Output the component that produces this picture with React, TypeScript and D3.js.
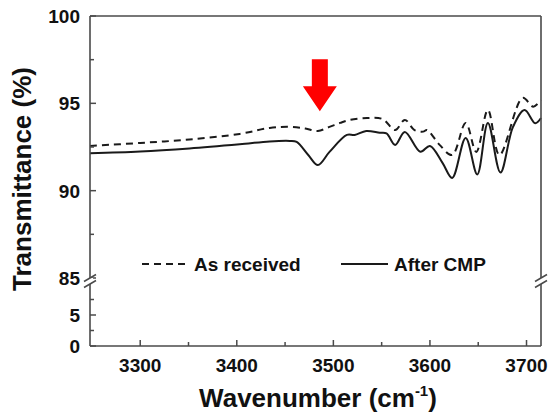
import React from 'react';
import * as d3 from 'd3';

// After CMP (solid)
const afterWave = [3248, 3300, 3351, 3403, 3434, 3455, 3462, 3474, 3484, 3496, 3514, 3522, 3534, 3548, 3555, 3564, 3574, 3590, 3600, 3613, 3623, 3637, 3649, 3660, 3673, 3686, 3698, 3709, 3715];
const afterT = [92.14, 92.24, 92.42, 92.66, 92.82, 92.85, 92.79, 92.04, 91.47, 92.22, 93.19, 93.19, 93.42, 93.32, 93.28, 92.62, 93.36, 92.23, 92.56, 91.59, 90.73, 93.02, 90.93, 93.88, 91.04, 93.65, 94.62, 93.86, 94.16];

// As received (dashed)
const asRecWave = [3248, 3300, 3351, 3403, 3434, 3455, 3471, 3484, 3496, 3507, 3517, 3535, 3551, 3564, 3574, 3584, 3593, 3597, 3610, 3623, 3637, 3648, 3660, 3672, 3696, 3707, 3715];
const asRecT = [92.56, 92.73, 92.93, 93.25, 93.59, 93.66, 93.56, 93.42, 93.65, 93.88, 94.05, 94.16, 94.1, 93.47, 94.05, 93.47, 93.38, 93.47, 92.62, 92.04, 93.88, 92.22, 94.62, 92.04, 95.31, 94.81, 95.19];

const xMajor = [3300, 3400, 3500, 3600, 3700];
const xMinor = [3350, 3450, 3550, 3650];
const yTopMajor = [85, 90, 95, 100];
const yTopMinor = [87.5, 92.5, 97.5];
const yBotMajor = [0, 5];
const yBotMinor = [2.5, 7.5];

const W = 549;
const H = 416;
const L = 90;
const R = 541;
const T = 16;
const B = 346;

const x = d3.scaleLinear().domain([3248, 3715]).range([L, R]);
const yTop = d3.scaleLinear().domain([85, 100]).range([278, T]);
const yBot = d3.scaleLinear().domain([0, 10]).range([B, 284]);

const font = 'Arial, "Liberation Sans", sans-serif';
const axisColor = '#4a4a4a';

export default function App() {
  const line = d3.line<[number, number]>()
    .x(d => x(d[0]))
    .y(d => yTop(d[1]))
    .curve(d3.curveCatmullRom.alpha(0.5));

  const afterPath = line(afterWave.map((w, i) => [w, afterT[i]]) as [number, number][]) || '';
  const asRecPath = line(asRecWave.map((w, i) => [w, asRecT[i]]) as [number, number][]) || '';

  const arrowX = x(3486);
  const tipY = yTop(94.55);
  const arrow = [
    [arrowX - 8, tipY - 52],
    [arrowX + 8, tipY - 52],
    [arrowX + 8, tipY - 25],
    [arrowX + 17, tipY - 25],
    [arrowX, tipY],
    [arrowX - 17, tipY - 25],
    [arrowX - 8, tipY - 25],
  ].map(p => p.join(',')).join(' ');

  const breakY = (yTop(85) + yBot(10)) / 2;

  const breakMark = (bx: number) => (
    <g key={'b' + bx}>
      <rect x={bx - 3} y={breakY - 3} width={6} height={6} fill="#fff" />
      <line x1={bx - 6} y1={breakY - 3 + 3.5} x2={bx + 6} y2={breakY - 3 - 3.5} stroke={axisColor} strokeWidth={1.5} />
      <line x1={bx - 6} y1={breakY + 3 + 3.5} x2={bx + 6} y2={breakY + 3 - 3.5} stroke={axisColor} strokeWidth={1.5} />
    </g>
  );

  return (
    <svg width={W} height={H} style={{ position: 'absolute', left: 0, top: 0, background: '#fff' }} fontFamily={font}>
      <rect x={0} y={0} width={W} height={H} fill="#fff" />

      {/* curves */}
      <path d={asRecPath} fill="none" stroke="#1a1a1a" strokeWidth={2} strokeDasharray="7,5" />
      <path d={afterPath} fill="none" stroke="#1a1a1a" strokeWidth={2} />

      {/* red arrow */}
      <polygon points={arrow} fill="#ff0000" />

      {/* frame */}
      <g stroke={axisColor} strokeWidth={1.6} fill="none">
        <line x1={L} y1={T} x2={R} y2={T} />
        <line x1={L} y1={B} x2={R} y2={B} />
        <line x1={L} y1={T} x2={L} y2={B} />
        <line x1={R} y1={T} x2={R} y2={B} />
      </g>

      {/* x ticks */}
      <g stroke={axisColor} strokeWidth={1.5}>
        {xMajor.map(v => <line key={'xM' + v} x1={x(v)} x2={x(v)} y1={B} y2={B - 6} />)}
        {xMinor.map(v => <line key={'xm' + v} x1={x(v)} x2={x(v)} y1={B} y2={B - 4} />)}
        {yTopMajor.map(v => <line key={'yM' + v} x1={L} x2={L + 6} y1={yTop(v)} y2={yTop(v)} />)}
        {yTopMinor.map(v => <line key={'ym' + v} x1={L} x2={L + 4} y1={yTop(v)} y2={yTop(v)} />)}
        {yBotMajor.map(v => <line key={'bM' + v} x1={L} x2={L + 6} y1={yBot(v)} y2={yBot(v)} />)}
        {yBotMinor.map(v => <line key={'bm' + v} x1={L} x2={L + 4} y1={yBot(v)} y2={yBot(v)} />)}
      </g>

      {breakMark(L)}
      {breakMark(R)}

      {/* tick labels */}
      <g fontSize={19} fontWeight="bold" fill="#111">
        {xMajor.map(v => (
          <text key={'xl' + v} x={x(v)} y={372} textAnchor="middle">{v}</text>
        ))}
        {yTopMajor.map(v => (
          <text key={'yl' + v} x={80} y={yTop(v) + 7} textAnchor="end">{v}</text>
        ))}
        {yBotMajor.map(v => (
          <text key={'bl' + v} x={80} y={yBot(v) + 7} textAnchor="end">{v}</text>
        ))}
      </g>

      {/* legend */}
      <g fontSize={19} fontWeight="bold" fill="#111">
        <line x1={142} x2={189} y1={264} y2={264} stroke="#1a1a1a" strokeWidth={2} strokeDasharray="7,5" />
        <text x={194} y={271}>As received</text>
        <line x1={341} x2={388} y1={264} y2={264} stroke="#1a1a1a" strokeWidth={2} />
        <text x={394} y={271}>After CMP</text>
      </g>

      {/* axis titles */}
      <text x={318} y={407} textAnchor="middle" fontSize={26} fontWeight="bold" fill="#111">
        Wavenumber (cm<tspan fontSize={15} dy={-11}>-1</tspan><tspan dy={11}>)</tspan>
      </text>
      <text transform="translate(31,179) rotate(-90)" textAnchor="middle" fontSize={26} fontWeight="bold" fill="#111">
        Transmittance (%)
      </text>
    </svg>
  );
}
